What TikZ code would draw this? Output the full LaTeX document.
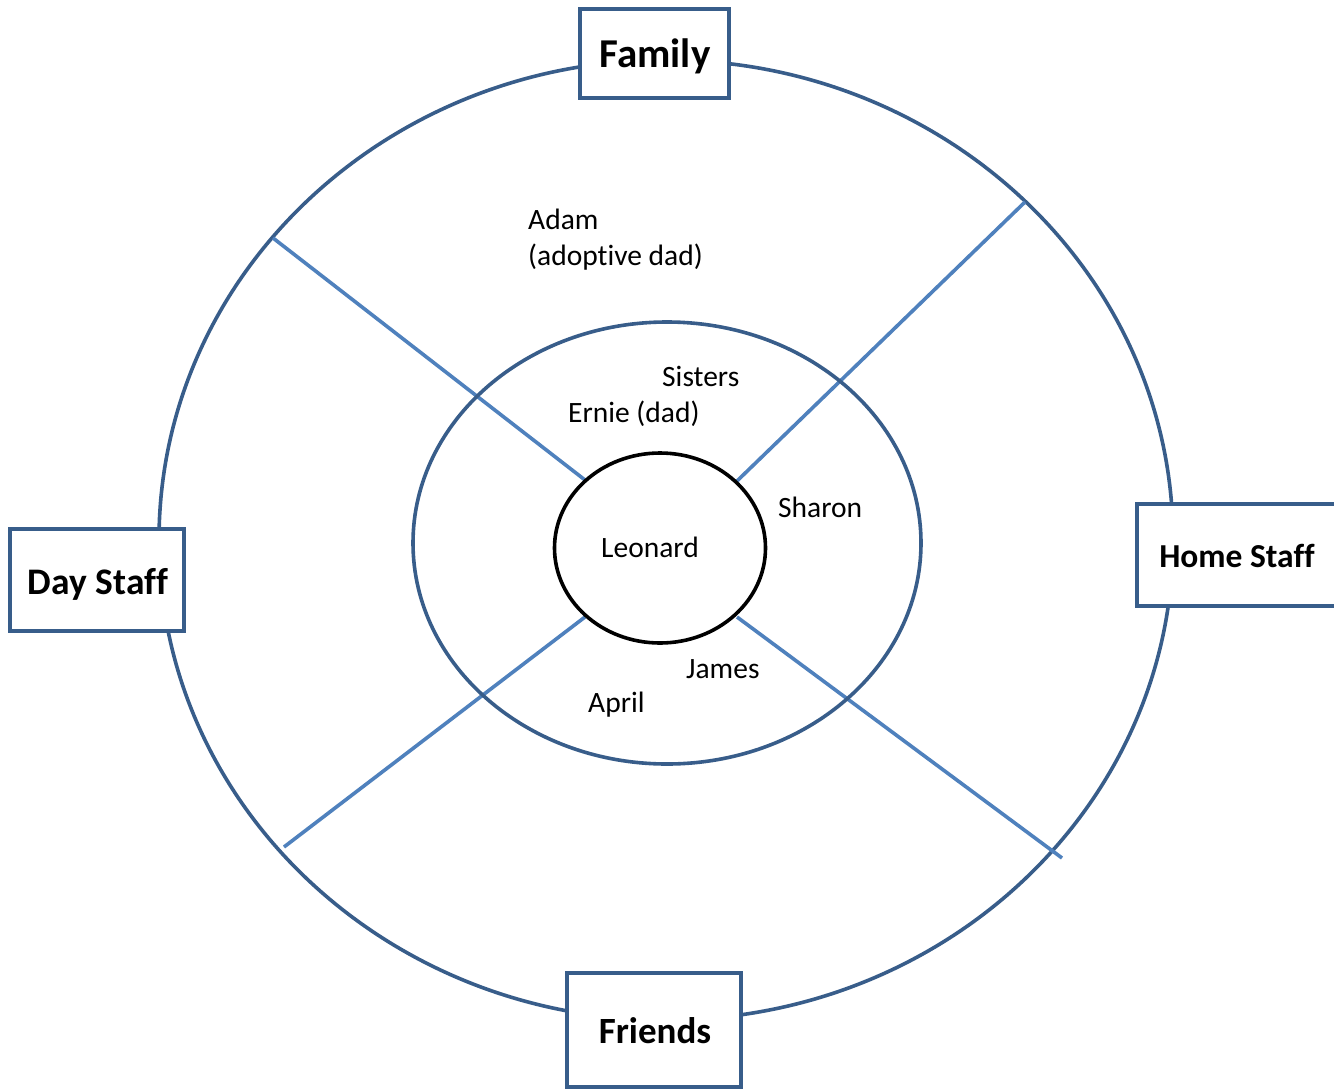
\documentclass[tikz,border=0pt]{standalone}
\usepackage{fontspec}
\setmainfont[Ligatures=NoCommon]{Carlito}
\usetikzlibrary{shapes.geometric}
\definecolor{ringblue}{RGB}{56,93,138}
\definecolor{spokeblue}{RGB}{79,129,189}
\tikzset{
  ring/.style={draw=ringblue, line width=3.6pt, ellipse, inner sep=0pt},
  spoke/.style={draw=spokeblue, line width=3.6pt},
  catbox/.style={draw=ringblue, fill=white, line width=3.6pt},
  cattext/.style={font=\bfseries, anchor=base, inner sep=0pt},
  person/.style={font=\fontsize{29.5}{34}\selectfont, anchor=base west, inner sep=0pt},
}
\begin{document}
\begin{tikzpicture}[x=1pt,y=-1pt]
\clip (0,0) rectangle (1334,1090);
\fill[white] (0,0) rectangle (1334,1090);
% outer ring
\node[ring, minimum width=1014pt, minimum height=960pt] (outer) at (666,540) {};
% spokes
\coordinate (s1a) at (273,238); \coordinate (s1b) at (585,480);
\coordinate (s2a) at (1025,202); \coordinate (s2b) at (737,481);
\coordinate (s3a) at (284,847); \coordinate (s3b) at (585,617);
\coordinate (s4a) at (1062,858); \coordinate (s4b) at (737,617);
\draw[spoke] (s1a) -- (s1b);
\draw[spoke] (s2a) -- (s2b);
\draw[spoke] (s3a) -- (s3b);
\draw[spoke] (s4a) -- (s4b);
% middle ring
\node[ring, minimum width=508pt, minimum height=442pt] (middle) at (667,543) {};
% inner circle
\node[draw=black, line width=3.6pt, ellipse, inner sep=0pt, minimum width=211pt, minimum height=190pt] (centre) at (660,548) {};
% category boxes
\draw[catbox] (580,9) rectangle (729,98);
\node[cattext, font=\fontsize{41}{45}\selectfont\bfseries] (family) at (655,67) {Family};
\draw[catbox] (10,529) rectangle (184,631);
\node[cattext, font=\fontsize{37.5}{42}\selectfont\bfseries] (day) at (98,594) {Day Staff};
\draw[catbox] (1137,504) rectangle (1345,606);
\node[cattext, font=\fontsize{33.5}{38}\selectfont\bfseries] (home) at (1237,567) {Home Staff};
\draw[catbox] (567,973) rectangle (741,1087);
\node[cattext, font=\fontsize{37}{41}\selectfont\bfseries] (friends) at (655,1043) {Friends};
% people
\node[person] (adam) at (528,229) {Adam};
\node[person] (adop) at (528,265) {(adoptive dad)};
\node[person] (sisters) at (662,386) {Sisters};
\node[person] (ernie) at (568,422) {Ernie (dad)};
\node[person] (leonard) at (601,557) {Leonard};
\node[person] (sharon) at (778,517) {Sharon};
\node[person] (james) at (686,678) {James};
\node[person] (april) at (588,712) {April};
\end{tikzpicture}
\end{document}
